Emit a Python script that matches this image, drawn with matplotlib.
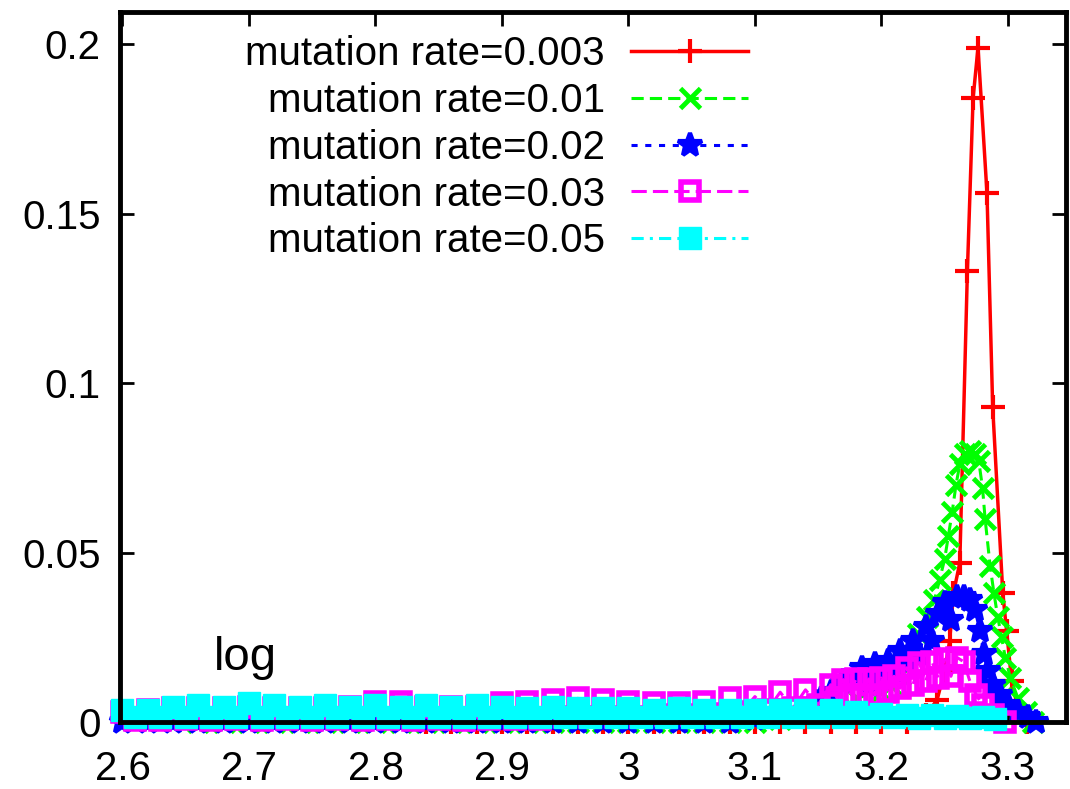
import matplotlib
matplotlib.use("Agg")
import matplotlib.pyplot as plt
from matplotlib import font_manager

# ---- data (fitness value vs. frequency) ----
labels = [
    "mutation rate=0.003",
    "mutation rate=0.01",
    "mutation rate=0.02",
    "mutation rate=0.03",
    "mutation rate=0.05",
]

red_x = [2.84, 2.86, 2.88, 2.90, 2.92, 2.94, 2.96, 2.98, 3.00, 3.02, 3.04,
         3.06, 3.08, 3.10, 3.12, 3.14, 3.16, 3.18, 3.20, 3.22, 3.235, 3.244,
         3.250, 3.254, 3.257, 3.262, 3.268, 3.2725, 3.2764, 3.2835, 3.288,
         3.296, 3.299, 3.303, 3.308, 3.315]
red_y = [0, 0, 0, 0, 0, 0, 0, 0, 0, 0, 0,
         0, 0, 0, 0, 0, 0, 0, 0, 0, 0.002, 0.0065,
         0.015, 0.024, 0.038, 0.047, 0.133, 0.184, 0.199, 0.156, 0.093,
         0.038, 0.027, 0.012, 0.004, 0]

green_x = [2.66, 2.68, 2.70, 2.72, 2.74, 2.76, 2.78, 2.80, 2.82, 2.84, 2.86,
           2.88, 2.90, 2.92, 2.94, 2.96, 2.98, 3.00, 3.02, 3.04, 3.06, 3.08,
           3.10, 3.12, 3.14, 3.16, 3.18, 3.20, 3.208, 3.215, 3.222, 3.229,
           3.236, 3.242, 3.246, 3.250, 3.253, 3.256, 3.259, 3.262, 3.266,
           3.270, 3.274, 3.277, 3.280, 3.282, 3.286, 3.289, 3.292, 3.295,
           3.298, 3.302, 3.308, 3.314, 3.320]
green_y = [0, 0, 0, 0, 0, 0, 0, 0, 0, 0, 0,
           0, 0, 0, 0, 0, 0, 0, 0, 0, 0, 0,
           0, 0.001, 0.002, 0.004, 0.007, 0.009, 0.011, 0.014, 0.020, 0.026,
           0.031, 0.036, 0.042, 0.048, 0.055, 0.062, 0.070, 0.076, 0.079,
           0.080, 0.079, 0.077, 0.069, 0.060, 0.046, 0.038, 0.031, 0.025,
           0.019, 0.013, 0.007, 0.003, 0.0]

blue_x = [2.60, 2.62, 2.64, 2.66, 2.68, 2.70, 2.72, 2.74, 2.76, 2.78, 2.80,
          2.82, 2.84, 2.86, 2.88, 2.90, 2.92, 2.94, 2.96, 2.98, 3.00, 3.02,
          3.04, 3.06, 3.08, 3.10, 3.12, 3.14, 3.15, 3.16, 3.17, 3.18, 3.185,
          3.19, 3.195, 3.20, 3.205, 3.21, 3.215, 3.22, 3.225, 3.23, 3.235,
          3.24, 3.245, 3.25, 3.255, 3.26, 3.265, 3.27, 3.274, 3.278, 3.281,
          3.284, 3.288, 3.294, 3.300, 3.308, 3.316, 3.322]
blue_y = [0, 0, 0, 0, 0, 0, 0, 0, 0, 0, 0,
          0, 0, 0, 0, 0, 0, 0, 0, 0, 0, 0,
          0, 0, 0, 0.001, 0.002, 0.003, 0.006, 0.009, 0.012, 0.014, 0.016,
          0.011, 0.017, 0.013, 0.018, 0.015, 0.021, 0.017, 0.024, 0.020, 0.028,
          0.024, 0.032, 0.035, 0.030, 0.037, 0.037, 0.036, 0.033, 0.027, 0.020,
          0.015, 0.011, 0.008, 0.005, 0.003, 0.0015, 0.0]

magenta_x = [2.60, 2.61, 2.62, 2.63, 2.64, 2.65, 2.66, 2.67, 2.68, 2.69,
             2.70, 2.71, 2.72, 2.73, 2.74, 2.75, 2.76, 2.77, 2.78, 2.79,
             2.80, 2.81, 2.82, 2.83, 2.84, 2.85, 2.86, 2.87, 2.88, 2.89,
             2.90, 2.91, 2.92, 2.93, 2.94, 2.95, 2.96, 2.97, 2.98, 2.99,
             3.00, 3.01, 3.02, 3.03, 3.04, 3.05, 3.06, 3.07, 3.08, 3.09,
             3.10, 3.11, 3.12, 3.13, 3.14, 3.15, 3.16, 3.165, 3.17, 3.175,
             3.18, 3.185, 3.19, 3.195, 3.20, 3.205, 3.21, 3.215, 3.22, 3.225,
             3.23, 3.235, 3.24, 3.245, 3.25, 3.255, 3.26, 3.265, 3.27, 3.275,
             3.28, 3.288, 3.298]
magenta_y = [0.003, 0.0005, 0.0035, 0.0005, 0.004, 0.001, 0.004, 0.0005, 0.004, 0.001,
             0.0045, 0.0005, 0.004, 0.001, 0.004, 0.0005, 0.004, 0.001, 0.0045, 0.0005,
             0.006, 0.001, 0.006, 0.0005, 0.0045, 0.001, 0.0045, 0.0005, 0.0045, 0.001,
             0.0055, 0.001, 0.006, 0.001, 0.0065, 0.0015, 0.007, 0.0015, 0.0065, 0.0015,
             0.006, 0.0015, 0.0055, 0.002, 0.0055, 0.002, 0.006, 0.0025, 0.007, 0.003,
             0.0075, 0.0035, 0.0088, 0.004, 0.0095, 0.005, 0.011, 0.007, 0.0125, 0.008,
             0.0127, 0.008, 0.0127, 0.008, 0.013, 0.009, 0.0135, 0.010, 0.016, 0.011,
             0.0175, 0.012, 0.0178, 0.013, 0.0185, 0.0135, 0.019, 0.0178, 0.012, 0.008,
             0.005, 0.002, 0.0]

cyan_x = [2.60, 2.61, 2.62, 2.63, 2.64, 2.65, 2.66, 2.67, 2.68, 2.69,
          2.70, 2.71, 2.72, 2.73, 2.74, 2.75, 2.76, 2.77, 2.78, 2.79,
          2.80, 2.81, 2.82, 2.83, 2.84, 2.85, 2.86, 2.87, 2.88, 2.89,
          2.90, 2.91, 2.92, 2.93, 2.94, 2.95, 2.96, 2.97, 2.98, 2.99,
          3.00, 3.01, 3.02, 3.03, 3.04, 3.05, 3.06, 3.07, 3.08, 3.09,
          3.10, 3.11, 3.12, 3.13, 3.14, 3.15, 3.16, 3.17, 3.18, 3.19,
          3.20, 3.21, 3.22, 3.23, 3.24, 3.25, 3.26, 3.27, 3.28, 3.29]
cyan_y = [0.0035, 0.0015, 0.0035, 0.0015, 0.0045, 0.0015, 0.0050, 0.0015, 0.0045, 0.0015,
          0.0055, 0.0015, 0.0050, 0.0015, 0.0045, 0.0015, 0.0050, 0.0015, 0.0045, 0.0015,
          0.0050, 0.0015, 0.0045, 0.0015, 0.0050, 0.0015, 0.0045, 0.0015, 0.0050, 0.0015,
          0.0045, 0.0015, 0.0040, 0.0015, 0.0045, 0.0015, 0.0040, 0.0015, 0.0040, 0.0015,
          0.0040, 0.0015, 0.0035, 0.0015, 0.0040, 0.0015, 0.0035, 0.0015, 0.0035, 0.0015,
          0.0035, 0.0015, 0.0035, 0.0015, 0.0035, 0.0015, 0.0035, 0.0015, 0.0030, 0.0015,
          0.0025, 0.0015, 0.0022, 0.0012, 0.0020, 0.0012, 0.0018, 0.0012, 0.0016, 0.0008]

x_ticks = [2.6, 2.7, 2.8, 2.9, 3.0, 3.1, 3.2, 3.3]
x_tick_labels = ["2.6", "2.7", "2.8", "2.9", "3", "3.1", "3.2", "3.3"]
y_ticks = [0, 0.05, 0.1, 0.15, 0.2]
y_tick_labels = ["0", "0.05", "0.1", "0.15", "0.2"]

# ---- fonts: the reference text is a squeezed Arial, use a narrow one if present ----
available = {f.name for f in font_manager.fontManager.ttflist}
if "Liberation Sans Narrow" in available:
    label_font = "Liberation Sans Narrow"
    label_size = 34
    label_spacing = 0.0
else:
    label_font = "Liberation Sans"
    label_size = 29
    label_spacing = 0.22

fig = plt.figure(figsize=(10.7, 7.89), dpi=100)
ax = fig.add_axes([0.1121, 0.0849, 0.8842, 0.8999])

series = [
    (red_x, red_y, dict(color="#ff0000", ls="-", lw=2.5, marker="+", ms=17, mew=3)),
    (green_x, green_y, dict(color="#00ff00", ls=(0, (4, 2)), lw=2.2, marker="x",
                            ms=15, mew=3.5)),
    (blue_x, blue_y, dict(color="#0000ff", ls=(0, (2, 2.5)), lw=2.2, marker="*",
                          ms=18, mew=3)),
    (magenta_x, magenta_y, dict(color="#ff00ff", ls=(0, (5, 2)), lw=2.2, marker="s",
                                ms=13, mew=4, mfc="none")),
    (cyan_x, cyan_y, dict(color="#00ffff", ls=(0, (4, 2, 1, 2)), lw=2.2, marker="s",
                          ms=16, mew=1)),
]
for (xs, ys, style), lab in zip(series, labels):
    ax.plot(xs, ys, label=lab, clip_on=False, **style)

ax.set_xlim(2.598, 3.346)
ax.set_ylim(0, 0.2095)

ax.set_xticks(x_ticks)
ax.set_xticklabels(x_tick_labels, fontfamily=label_font, fontsize=label_size)
ax.set_yticks(y_ticks)
ax.set_yticklabels(y_tick_labels, fontfamily=label_font, fontsize=label_size)
ax.tick_params(direction="in", length=10, width=2, top=True, right=True, color="black")
ax.tick_params(axis="x", pad=20)
ax.tick_params(axis="y", pad=14)

for sp in ax.spines.values():
    sp.set_linewidth(3.5)
    sp.set_color("black")

leg = ax.legend(
    loc="upper right",
    bbox_to_anchor=(748 / 1070, 1 - 35 / 789),
    bbox_transform=fig.transFigure,
    markerfirst=False,
    frameon=False,
    handlelength=2.9,
    handletextpad=0.65,
    labelspacing=label_spacing,
    borderpad=0,
    borderaxespad=0,
    numpoints=1,
    prop={"family": label_font, "size": label_size},
)

ax.text(2.672, 0.0153, "log", fontfamily="Liberation Sans", fontsize=34,
        va="baseline", ha="left")

fig.savefig("out.png", dpi=100)
